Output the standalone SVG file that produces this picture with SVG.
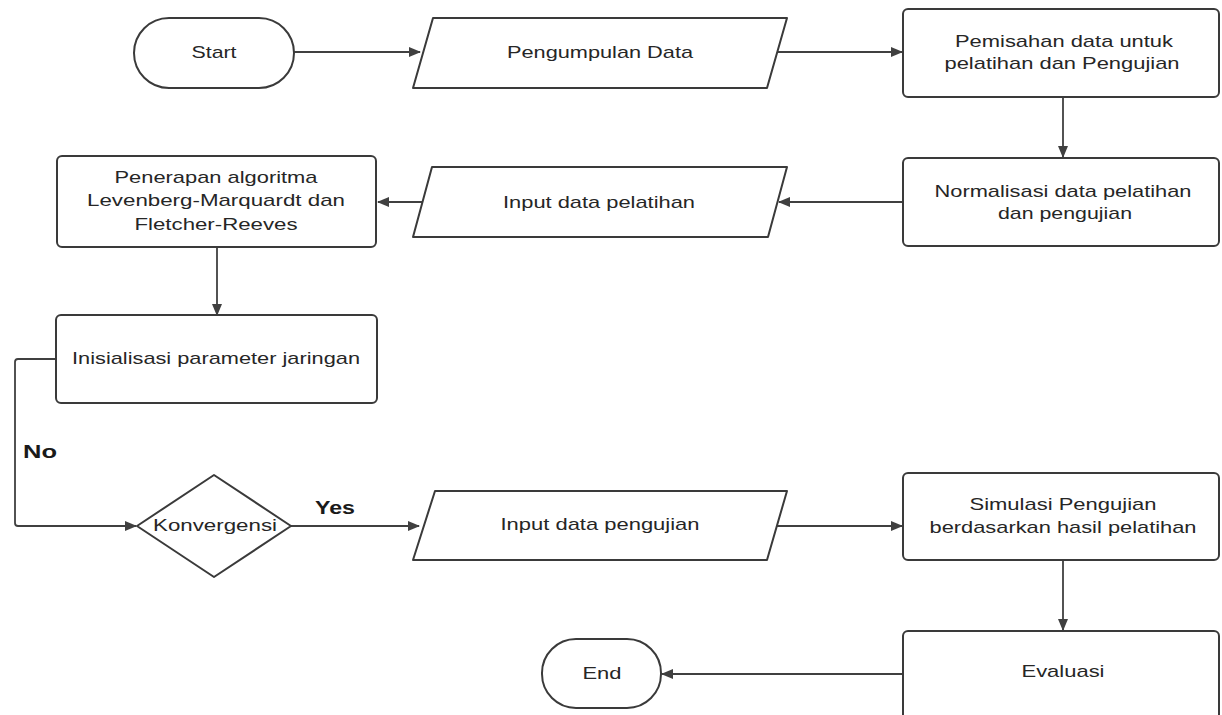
<svg xmlns="http://www.w3.org/2000/svg" width="1222" height="715" viewBox="0 0 1222 715">
<defs>
<style>
.shape{fill:#fff;stroke:#3a3a3a;stroke-width:2;stroke-linejoin:round}
.conn{fill:none;stroke:#404040;stroke-width:1.8}
.t{font-family:"Liberation Sans",Arial,sans-serif;font-size:17px;fill:#262626;text-anchor:middle}
.b{font-family:"Liberation Sans",Arial,sans-serif;font-size:18px;font-weight:bold;fill:#1a1a1a}
</style>
<marker id="ah" viewBox="0 0 12 10" refX="11" refY="5" markerWidth="12" markerHeight="10" markerUnits="userSpaceOnUse" orient="auto">
<path d="M0,0 L12,5 L0,10 z" fill="#404040"/>
</marker>
</defs>
<rect width="1222" height="715" fill="#fff"/>

<g id="connectors">
<line class="conn" x1="294" y1="52" x2="420" y2="52" marker-end="url(#ah)"/>
<line class="conn" x1="777" y1="52" x2="902" y2="52" marker-end="url(#ah)"/>
<line class="conn" x1="1063" y1="97" x2="1063" y2="157" marker-end="url(#ah)"/>
<line class="conn" x1="903" y1="202" x2="779" y2="202" marker-end="url(#ah)"/>
<line class="conn" x1="423" y1="202" x2="378" y2="202" marker-end="url(#ah)"/>
<line class="conn" x1="217" y1="248" x2="217" y2="315" marker-end="url(#ah)"/>
<path class="conn" d="M56,359 L18,359 Q15,359 15,362 L15,523 Q15,526 18,526 L136,526" marker-end="url(#ah)"/>
<line class="conn" x1="291" y1="526" x2="419" y2="526" marker-end="url(#ah)"/>
<line class="conn" x1="777" y1="526" x2="902" y2="526" marker-end="url(#ah)"/>
<line class="conn" x1="1063" y1="560" x2="1063" y2="630" marker-end="url(#ah)"/>
<line class="conn" x1="903" y1="674" x2="662" y2="674" marker-end="url(#ah)"/>
<text class="b" x="23" y="458" textLength="34" lengthAdjust="spacingAndGlyphs">No</text>
<text class="b" x="315" y="514" textLength="40" lengthAdjust="spacingAndGlyphs">Yes</text>
</g>

<g id="start">
<rect class="shape" x="134" y="18" width="160" height="70" rx="35"/>
<text class="t" x="214" y="58" textLength="45" lengthAdjust="spacingAndGlyphs">Start</text>
</g>

<g id="pengumpulan">
<polygon class="shape" points="433,18 787,18 767,88 413,88"/>
<text class="t" x="600" y="58" textLength="186" lengthAdjust="spacingAndGlyphs">Pengumpulan Data</text>
</g>

<g id="pemisahan">
<rect class="shape" x="903" y="9" width="316" height="88" rx="5"/>
<text class="t" x="1064" y="47" textLength="218" lengthAdjust="spacingAndGlyphs">Pemisahan data untuk</text>
<text class="t" x="1062" y="69" textLength="235" lengthAdjust="spacingAndGlyphs">pelatihan dan Pengujian</text>
</g>

<g id="normalisasi">
<rect class="shape" x="903" y="158" width="316" height="88" rx="5"/>
<text class="t" x="1063" y="197" textLength="257" lengthAdjust="spacingAndGlyphs">Normalisasi data pelatihan</text>
<text class="t" x="1065" y="219" textLength="134" lengthAdjust="spacingAndGlyphs">dan pengujian</text>
</g>

<g id="input-pelatihan">
<polygon class="shape" points="432,167 787,167 768,237 413,237"/>
<text class="t" x="599" y="208" textLength="192" lengthAdjust="spacingAndGlyphs">Input data pelatihan</text>
</g>

<g id="penerapan">
<rect class="shape" x="57" y="156" width="319" height="91" rx="5"/>
<text class="t" x="216" y="183" textLength="203" lengthAdjust="spacingAndGlyphs">Penerapan algoritma</text>
<text class="t" x="216" y="206" textLength="258" lengthAdjust="spacingAndGlyphs">Levenberg-Marquardt dan</text>
<text class="t" x="216" y="230" textLength="163" lengthAdjust="spacingAndGlyphs">Fletcher-Reeves</text>
</g>

<g id="inisialisasi">
<rect class="shape" x="56" y="315" width="321" height="88" rx="5"/>
<text class="t" x="216" y="364" textLength="288" lengthAdjust="spacingAndGlyphs">Inisialisasi parameter jaringan</text>
</g>

<g id="konvergensi">
<polygon class="shape" points="214,475 291,526 214,577 137,526"/>
<text class="t" x="215" y="531" textLength="124" lengthAdjust="spacingAndGlyphs">Konvergensi</text>
</g>

<g id="input-pengujian">
<polygon class="shape" points="435,491 787,491 767,560 413,560"/>
<text class="t" x="600" y="530" textLength="199" lengthAdjust="spacingAndGlyphs">Input data pengujian</text>
</g>

<g id="simulasi">
<rect class="shape" x="903" y="473" width="316" height="87" rx="5"/>
<text class="t" x="1063" y="510" textLength="187" lengthAdjust="spacingAndGlyphs">Simulasi Pengujian</text>
<text class="t" x="1063" y="533" textLength="267" lengthAdjust="spacingAndGlyphs">berdasarkan hasil pelatihan</text>
</g>

<g id="evaluasi">
<rect class="shape" x="903" y="631" width="316" height="100" rx="5"/>
<text class="t" x="1063" y="677" textLength="83" lengthAdjust="spacingAndGlyphs">Evaluasi</text>
</g>

<g id="end">
<rect class="shape" x="542" y="639" width="119" height="69" rx="34"/>
<text class="t" x="602" y="679" textLength="39" lengthAdjust="spacingAndGlyphs">End</text>
</g>
</svg>
